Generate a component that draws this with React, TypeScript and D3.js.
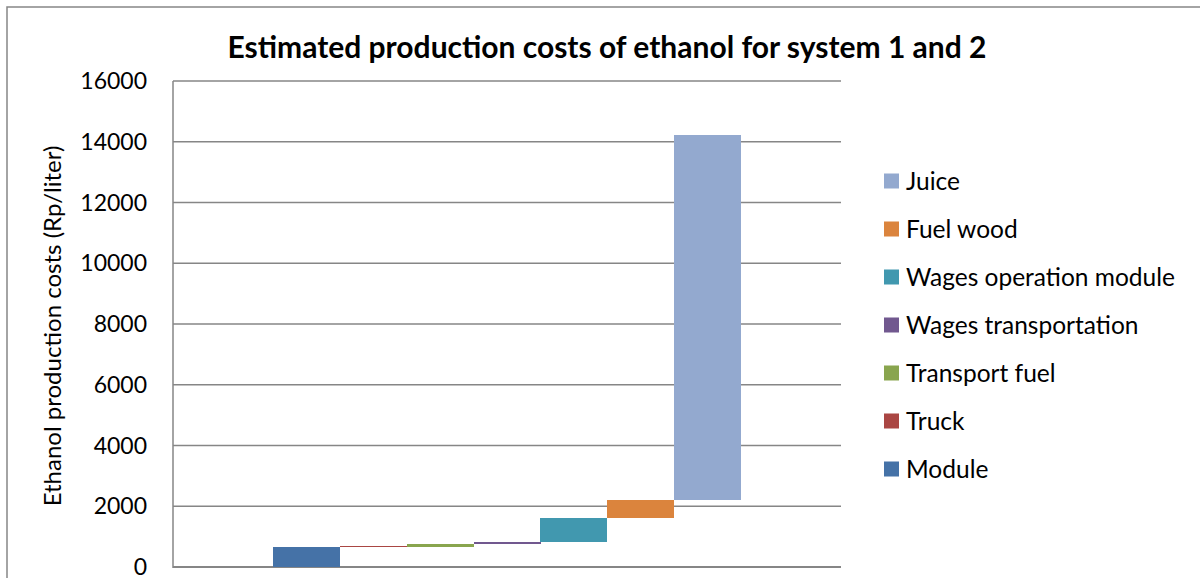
import React from "react";
import * as d3 from "d3";

// Cost components in stacking order (bottom to top of the waterfall)
const categories = [
  "Module",
  "Truck",
  "Transport fuel",
  "Wages transportation",
  "Wages operation module",
  "Fuel wood",
  "Juice",
];
// Invisible offset under each step (Rp/liter)
const baseValues = [0, 650, 670, 750, 810, 1620, 2200];
// Cost of each component (Rp/liter)
const costValues = [650, 20, 80, 60, 810, 580, 12020];
const colors = ["#4572A7", "#AA4643", "#89A54E", "#71588F", "#4198AF", "#DB843D", "#93A9CF"];
const yTicks = [0, 2000, 4000, 6000, 8000, 10000, 12000, 14000, 16000];

const W = 1200;
const H = 578;
const FONT = "Lato, 'Open Sans', sans-serif";
const plot = { left: 173, right: 841, top: 81, bottom: 567 };

export default function App() {
  const x = d3
    .scaleBand<string>()
    .domain(categories)
    .range([plot.left, plot.right])
    .paddingInner(0)
    .paddingOuter(1.5);
  const y = d3.scaleLinear().domain([0, 16000]).range([plot.bottom, plot.top]);

  const legendItems = categories.map((c, i) => ({ name: c, color: colors[i] })).reverse();

  // snap each step to whole pixels, keeping at least one pixel row visible
  const steps = categories.map((c, i) => {
    const yBottom = Math.round(y(baseValues[i]));
    const yTop = Math.min(Math.round(y(baseValues[i] + costValues[i])), yBottom - 1);
    return { c, color: colors[i], x: Math.round(x(c) ?? 0), w: Math.round(x.bandwidth()), yTop, h: yBottom - yTop };
  });

  return (
    <svg
      width={W}
      height={H}
      style={{ position: "absolute", left: 0, top: 0, background: "#fff" }}
      fontFamily={FONT}
    >
      <rect x={0} y={0} width={W} height={H} fill="#fff" />
      {/* chart frame */}
      <rect x={7} y={7} width={W + 20} height={H + 20} fill="none" stroke="#868686" strokeWidth={1.5} />

      {/* title */}
      <text x={607} y={58} textAnchor="middle" fontSize={30} fontWeight="bold" fill="#000">
        Estimated production costs of ethanol for system 1 and 2
      </text>

      {/* gridlines */}
      {yTicks.map((t) => (
        <line
          key={t}
          x1={plot.left}
          x2={plot.right}
          y1={y(t)}
          y2={y(t)}
          stroke="#868686"
          strokeWidth={t === 0 ? 2 : 1.5}
        />
      ))}
      {/* value axis line */}
      <line x1={plot.left} x2={plot.left} y1={plot.top} y2={plot.bottom + 1} stroke="#868686" strokeWidth={1.5} />

      {/* tick labels */}
      {yTicks.map((t) => (
        <text key={t} x={147} y={y(t)} dy="0.35em" textAnchor="end" fontSize={23} fill="#000">
          {t}
        </text>
      ))}

      {/* axis title */}
      <text transform={`translate(61, 326) rotate(-90)`} textAnchor="middle" fontSize={24} fill="#000">
        Ethanol production costs (Rp/liter)
      </text>

      {/* waterfall steps */}
      {steps.map((s) => (
        <rect key={s.c} x={s.x} width={s.w} y={s.yTop} height={s.h} fill={s.color} shapeRendering="crispEdges" />
      ))}

      {/* legend */}
      {legendItems.map((d, i) => (
        <g key={d.name} transform={`translate(884, ${181 + i * 48})`}>
          <rect x={0} y={-7.5} width={15} height={15} fill={d.color} />
          <text x={22} y={0} dy="0.35em" fontSize={24.5} fill="#000">
            {d.name}
          </text>
        </g>
      ))}
    </svg>
  );
}
